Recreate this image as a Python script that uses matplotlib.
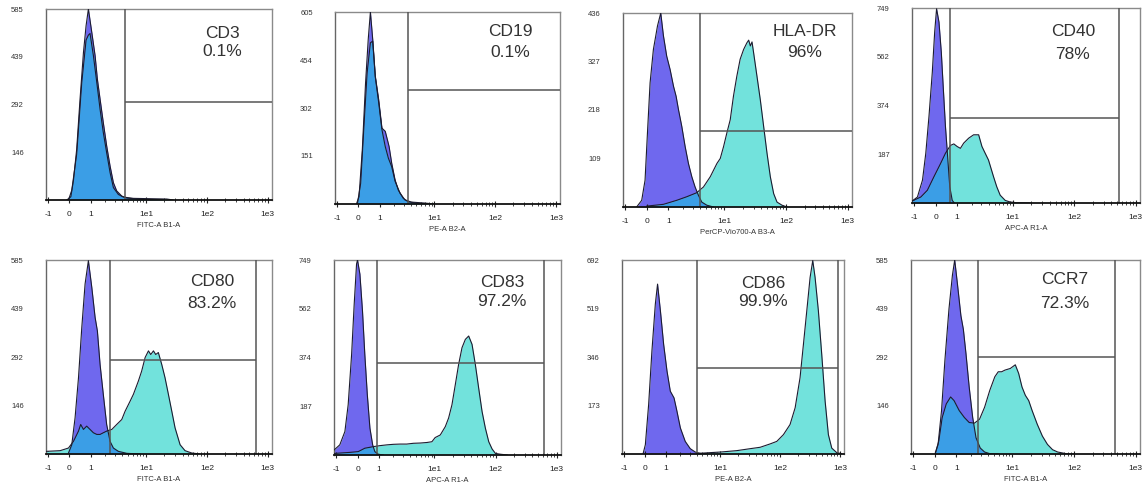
import numpy as np
import matplotlib.pyplot as plt

plt.rcParams['font.family'] = ['Liberation Sans', 'DejaVu Sans']

# panel info
markers = ["CD3", "CD19", "HLA-DR", "CD40", "CD80", "CD83", "CD86", "CCR7"]
percents = ["0.1%", "0.1%", "96%", "78%", "83.2%", "97.2%", "99.9%", "72.3%"]
channels = ["FITC-A B1-A", "PE-A B2-A", "PerCP-Vio700-A B3-A", "APC-A R1-A",
            "FITC-A B1-A", "APC-A R1-A", "PE-A B2-A", "FITC-A B1-A"]
y_max = [585, 605, 436, 749, 585, 749, 692, 585]

# gates: lower cut, upper cut (None = runs to the axis end), marker height
gate_lo = [4.4, 3.6, 4.05, 0.65, 2.47, 0.9, 4.0, 2.67]
gate_hi = [None, None, None, 535, 650, 615, 943, 468]
gate_y = [299, 360, 171, 327, 284, 354, 305, 294]

# histograms: isotype (iso) and stained (st), x = fluorescence, y = count
cd3_iso_x = [-0.11, 0.06, 0.17, 0.31, 0.46, 0.62, 0.75, 0.87, 1.06, 1.26, 1.41, 1.6, 1.85, 2.14, 2.47, 2.83, 3.23, 3.95, 4.8, 8.0, 20]
cd3_iso_y = [0, 10, 60, 155, 309, 452, 534, 585, 513, 442, 370, 309, 237, 166, 104, 53, 28, 12, 6, 2, 0]
cd3_st_x = [-0.04, 0.10, 0.31, 0.54, 0.75, 0.87, 0.96, 1.155, 1.37, 1.6, 1.85, 2.14, 2.47, 2.83, 3.45, 4.2, 6.2, 11.7, 22, 28]
cd3_st_y = [0, 30, 140, 360, 490, 505, 510, 442, 360, 278, 207, 145, 84, 38, 17, 9, 5, 4, 3, 0]

cd19_iso_x = [-0.08, 0.03, 0.17, 0.31, 0.43, 0.53, 0.64, 0.77, 0.95, 1.14, 1.35, 1.62, 1.82, 2.11, 2.42, 2.97, 3.6, 5.3, 8]
cd19_iso_y = [0, 23, 171, 381, 519, 605, 519, 403, 329, 239, 229, 181, 129, 76, 44, 18, 7, 2, 0]
cd19_st_x = [-0.04, 0.10, 0.24, 0.38, 0.53, 0.64, 0.77, 0.95, 1.14, 1.35, 1.57, 1.82, 2.11, 2.6, 3.17, 4.1, 6.9, 10]
cd19_st_y = [0, 65, 245, 413, 508, 513, 400, 320, 234, 181, 144, 118, 72, 34, 13, 6, 3, 0]

hladr_iso_x = [-0.43, -0.21, -0.07, 0.03, 0.14, 0.28, 0.46, 0.61, 0.74, 0.91, 1.10, 1.31, 1.48, 1.65, 1.91, 2.2, 2.52, 2.89, 3.29, 3.76, 4.27, 5.18, 6.7]
hladr_iso_y = [0, 15, 60, 166, 279, 354, 407, 436, 385, 339, 309, 271, 249, 219, 181, 136, 98, 68, 45, 26, 11, 4, 0]
hladr_st_x = [0, 0.74, 1.52, 2.35, 3.5, 4.55, 5.9, 7.6, 8.6, 9.75, 11.0, 12.5, 14.1, 16.0, 18.1, 20.6, 23.3, 24.9, 26.5, 28.2, 29.9, 33.9, 38.4, 43.5, 49.3, 55.8, 63.2, 71.6, 86.3, 104]
hladr_st_y = [2, 6, 15, 23, 32, 45, 68, 98, 109, 136, 166, 196, 249, 294, 332, 354, 369, 375, 362, 371, 347, 294, 241, 181, 121, 68, 30, 11, 4, 0]

cd40_iso_x = [-1.1, -0.82, -0.57, -0.42, -0.28, -0.14, -0.04, 0.04, 0.14, 0.24, 0.32, 0.42, 0.53, 0.62, 0.74, 0.85]
cd40_iso_y = [8, 23, 88, 191, 333, 501, 656, 746, 695, 578, 449, 294, 165, 62, 10, 0]
cd40_st_x = [-1.1, -0.65, -0.35, -0.07, 0.21, 0.42, 0.65, 0.82, 1.0, 1.19, 1.40, 1.76, 2.18, 2.68, 3.06, 3.48, 3.96, 4.81, 5.45, 6.2, 7.5, 9.0, 11.6, 20]
cd40_st_y = [8, 23, 49, 101, 152, 191, 221, 227, 217, 210, 230, 249, 262, 262, 217, 191, 165, 101, 62, 30, 10, 4, 1, 0]

cd80_iso_x = [-0.04, 0.10, 0.24, 0.39, 0.54, 0.70, 0.87, 1.06, 1.26, 1.41, 1.6, 1.85, 2.14, 2.47, 2.83, 3.45, 4.8, 8]
cd80_iso_y = [3, 28, 109, 230, 381, 513, 583, 502, 412, 371, 270, 180, 89, 38, 18, 8, 2, 0]
cd80_st_x = [-1.1, -0.40, -0.04, 0.17, 0.39, 0.49, 0.62, 0.78, 0.96, 1.155, 1.37, 1.6, 1.85, 2.14, 2.65, 3.23, 3.95, 4.5, 5.45, 6.2, 7.5, 8.5, 9.7, 11.0, 12.0, 13.3, 14.5, 16.0, 18.2, 20.6, 23.4, 26.6, 30.1, 36.4, 43.9, 56.5, 77]
cd80_st_y = [8, 10, 18, 38, 69, 89, 74, 84, 74, 64, 59, 59, 64, 69, 74, 89, 104, 129, 159, 180, 220, 250, 291, 311, 300, 311, 300, 306, 270, 230, 180, 129, 79, 28, 10, 3, 0]

cd83_iso_x = [-1.1, -0.80, -0.55, -0.40, -0.25, -0.14, -0.04, 0, 0.10, 0.21, 0.31, 0.42, 0.54, 0.67, 0.78, 0.96, 1.26]
cd83_iso_y = [20, 39, 90, 193, 386, 579, 734, 749, 695, 553, 386, 232, 103, 39, 13, 3, 0]
cd83_st_x = [-1.1, -0.33, 0.03, 0.31, 0.70, 1.06, 1.51, 2.0, 2.65, 3.45, 4.5, 5.85, 7.5, 9.1, 10.3, 12.5, 15.1, 17.1, 19.4, 22.0, 24.9, 28.3, 32.1, 36.4, 41.3, 46.8, 53.0, 60.2, 68.2, 77.4, 87.8, 99.6, 120, 155]
cd83_st_y = [6, 10, 13, 26, 32, 36, 39, 41, 42, 42, 45, 46, 48, 51, 67, 77, 109, 142, 193, 270, 347, 412, 444, 457, 425, 347, 257, 167, 103, 51, 23, 6, 3, 0]

cd86_iso_x = [-0.085, 0.015, 0.157, 0.30, 0.455, 0.56, 0.70, 0.87, 1.06, 1.265, 1.52, 1.74, 2.03, 2.5, 3.08, 3.77, 4.6, 6]
cd86_iso_y = [0, 33, 177, 367, 535, 606, 511, 391, 296, 224, 200, 153, 93, 45, 19, 7, 2, 0]
cd86_st_x = [4.0, 10.1, 19.0, 31.8, 46.7, 68.5, 88.4, 114, 147, 179, 216, 246, 280, 318, 352, 385, 437, 497, 566, 642, 731, 884, 1070]
cd86_st_y = [2, 7, 12, 19, 24, 36, 45, 69, 105, 165, 272, 391, 511, 630, 690, 630, 511, 356, 189, 69, 21, 5, 1]

ccr7_iso_x = [0.028, 0.14, 0.286, 0.435, 0.62, 0.79, 0.91, 1.065, 1.27, 1.43, 1.61, 1.86, 2.16, 2.48, 2.94, 3.49, 4.27, 6]
ccr7_iso_y = [3, 29, 131, 284, 437, 539, 585, 511, 417, 376, 304, 202, 110, 49, 18, 6, 1, 0]
ccr7_st_x = [0.028, 0.17, 0.315, 0.495, 0.70, 0.875, 1.165, 1.5, 1.86, 2.32, 2.86, 3.49, 4.27, 5.18, 5.9, 6.7, 7.6, 9.3, 11.2, 12.7, 14.4, 16.3, 18.5, 21.0, 25.4, 30.8, 37.2, 45.0, 54.4, 74.6, 100]
ccr7_st_y = [3, 39, 110, 151, 172, 161, 131, 110, 95, 93, 105, 141, 192, 233, 248, 248, 253, 258, 269, 243, 202, 177, 161, 131, 90, 54, 29, 13, 6, 1, 0]

curves = [
    (cd3_iso_x, cd3_iso_y, cd3_st_x, cd3_st_y),
    (cd19_iso_x, cd19_iso_y, cd19_st_x, cd19_st_y),
    (hladr_iso_x, hladr_iso_y, hladr_st_x, hladr_st_y),
    (cd40_iso_x, cd40_iso_y, cd40_st_x, cd40_st_y),
    (cd80_iso_x, cd80_iso_y, cd80_st_x, cd80_st_y),
    (cd83_iso_x, cd83_iso_y, cd83_st_x, cd83_st_y),
    (cd86_iso_x, cd86_iso_y, cd86_st_x, cd86_st_y),
    (ccr7_iso_x, ccr7_iso_y, ccr7_st_x, ccr7_st_y),
]

x_ticks = [-1, 0, 1, 10, 100, 1000]
x_ticklabels = ["-1", "0", "1", "1e1", "1e2", "1e3"]

# layout (pixel boxes: left, top, right, bottom) and label positions
boxes = [(46, 9, 272, 200), (335, 12, 560, 204), (623, 13, 852, 207), (912, 8, 1140, 203),
         (46, 260, 272, 454), (334, 260, 561, 455), (622, 260, 844, 454), (911, 260, 1140, 454)]
txt_x = [0.78, 0.78, 0.795, 0.706, 0.735, 0.74, 0.635, 0.672]
txt_y1 = [0.874, 0.896, 0.905, 0.877, 0.887, 0.887, 0.881, 0.897]
txt_y2 = [0.775, 0.79, 0.794, 0.759, 0.778, 0.785, 0.784, 0.778]

purple = '#6f68ee'
cyan = '#72e2dc'
blue = '#3b9ee6'
edge = '#1c1c30'
XMIN, XMAX = -1.12, 1170


def fwd(x):
    return np.arcsinh(np.asarray(x) / 1.116) / np.log(10)


def inv(f):
    return 1.116 * np.sinh(np.asarray(f) * np.log(10))


W, H = 1147, 490
fig = plt.figure(figsize=(W / 100, H / 100), dpi=100)

for i in range(8):
    l, t, r, b = boxes[i]
    ax = fig.add_axes([l / W, 1 - b / H, (r - l) / W, (b - t) / H])
    ax.set_xscale('function', functions=(fwd, inv))
    ax.set_xlim(XMIN, XMAX)
    ax.set_ylim(0, y_max[i])

    ix, iy, sx, sy = curves[i]
    iso = ax.fill_between(ix, iy, color=purple, lw=0, zorder=1)
    ax.fill_between(sx, sy, color=cyan, lw=0, zorder=2)
    both = ax.fill_between(sx, sy, color=blue, lw=0, zorder=3)
    both.set_clip_path(iso.get_paths()[0], iso.get_transform())
    ax.plot(ix, iy, color=edge, lw=0.8, zorder=4)
    ax.plot(sx, sy, color=edge, lw=0.8, zorder=4)

    # gate
    hi = gate_hi[i] if gate_hi[i] is not None else XMAX
    ax.axvline(gate_lo[i], color='#555555', lw=1.1, zorder=5)
    if gate_hi[i] is not None:
        ax.axvline(gate_hi[i], color='#555555', lw=1.1, zorder=5)
    ax.hlines(gate_y[i], gate_lo[i], hi, color='#555555', lw=1.1, zorder=5)

    ax.text(txt_x[i], txt_y1[i], markers[i], transform=ax.transAxes, ha='center', va='center',
            fontsize=12.5, color='#333333')
    ax.text(txt_x[i], txt_y2[i], percents[i], transform=ax.transAxes, ha='center', va='center',
            fontsize=12.5, color='#333333')

    ax.set_xticks(x_ticks, labels=x_ticklabels)
    minors = [m * d for d in (1, 10, 100) for m in range(2, 10)]
    ax.set_xticks(minors, minor=True)
    ax.tick_params(axis='x', which='major', direction='inout', length=4, width=0.8,
                   labelsize=6, pad=6, colors='#222222')
    ax.tick_params(axis='x', which='minor', direction='inout', length=2.5, width=0.6, colors='#222222')
    yt = [y_max[i] * k / 4 for k in range(1, 5)]
    ax.set_yticks(yt, labels=[str(round(v)) for v in yt])
    ax.tick_params(axis='y', length=0, labelsize=5.5, pad=16, colors='#333333')
    ax.set_xlabel(channels[i], fontsize=5.5, labelpad=3, color='#333333')

    for s in ('top', 'right'):
        ax.spines[s].set_color('#8a8a8a')
        ax.spines[s].set_linewidth(1.0)
    ax.spines['left'].set_color('#666666')
    ax.spines['left'].set_linewidth(1.0)
    ax.spines['bottom'].set_color('#111111')
    ax.spines['bottom'].set_linewidth(1.3)
    ax.spines['bottom'].set_zorder(6)

fig.savefig('out.png', dpi=100)
